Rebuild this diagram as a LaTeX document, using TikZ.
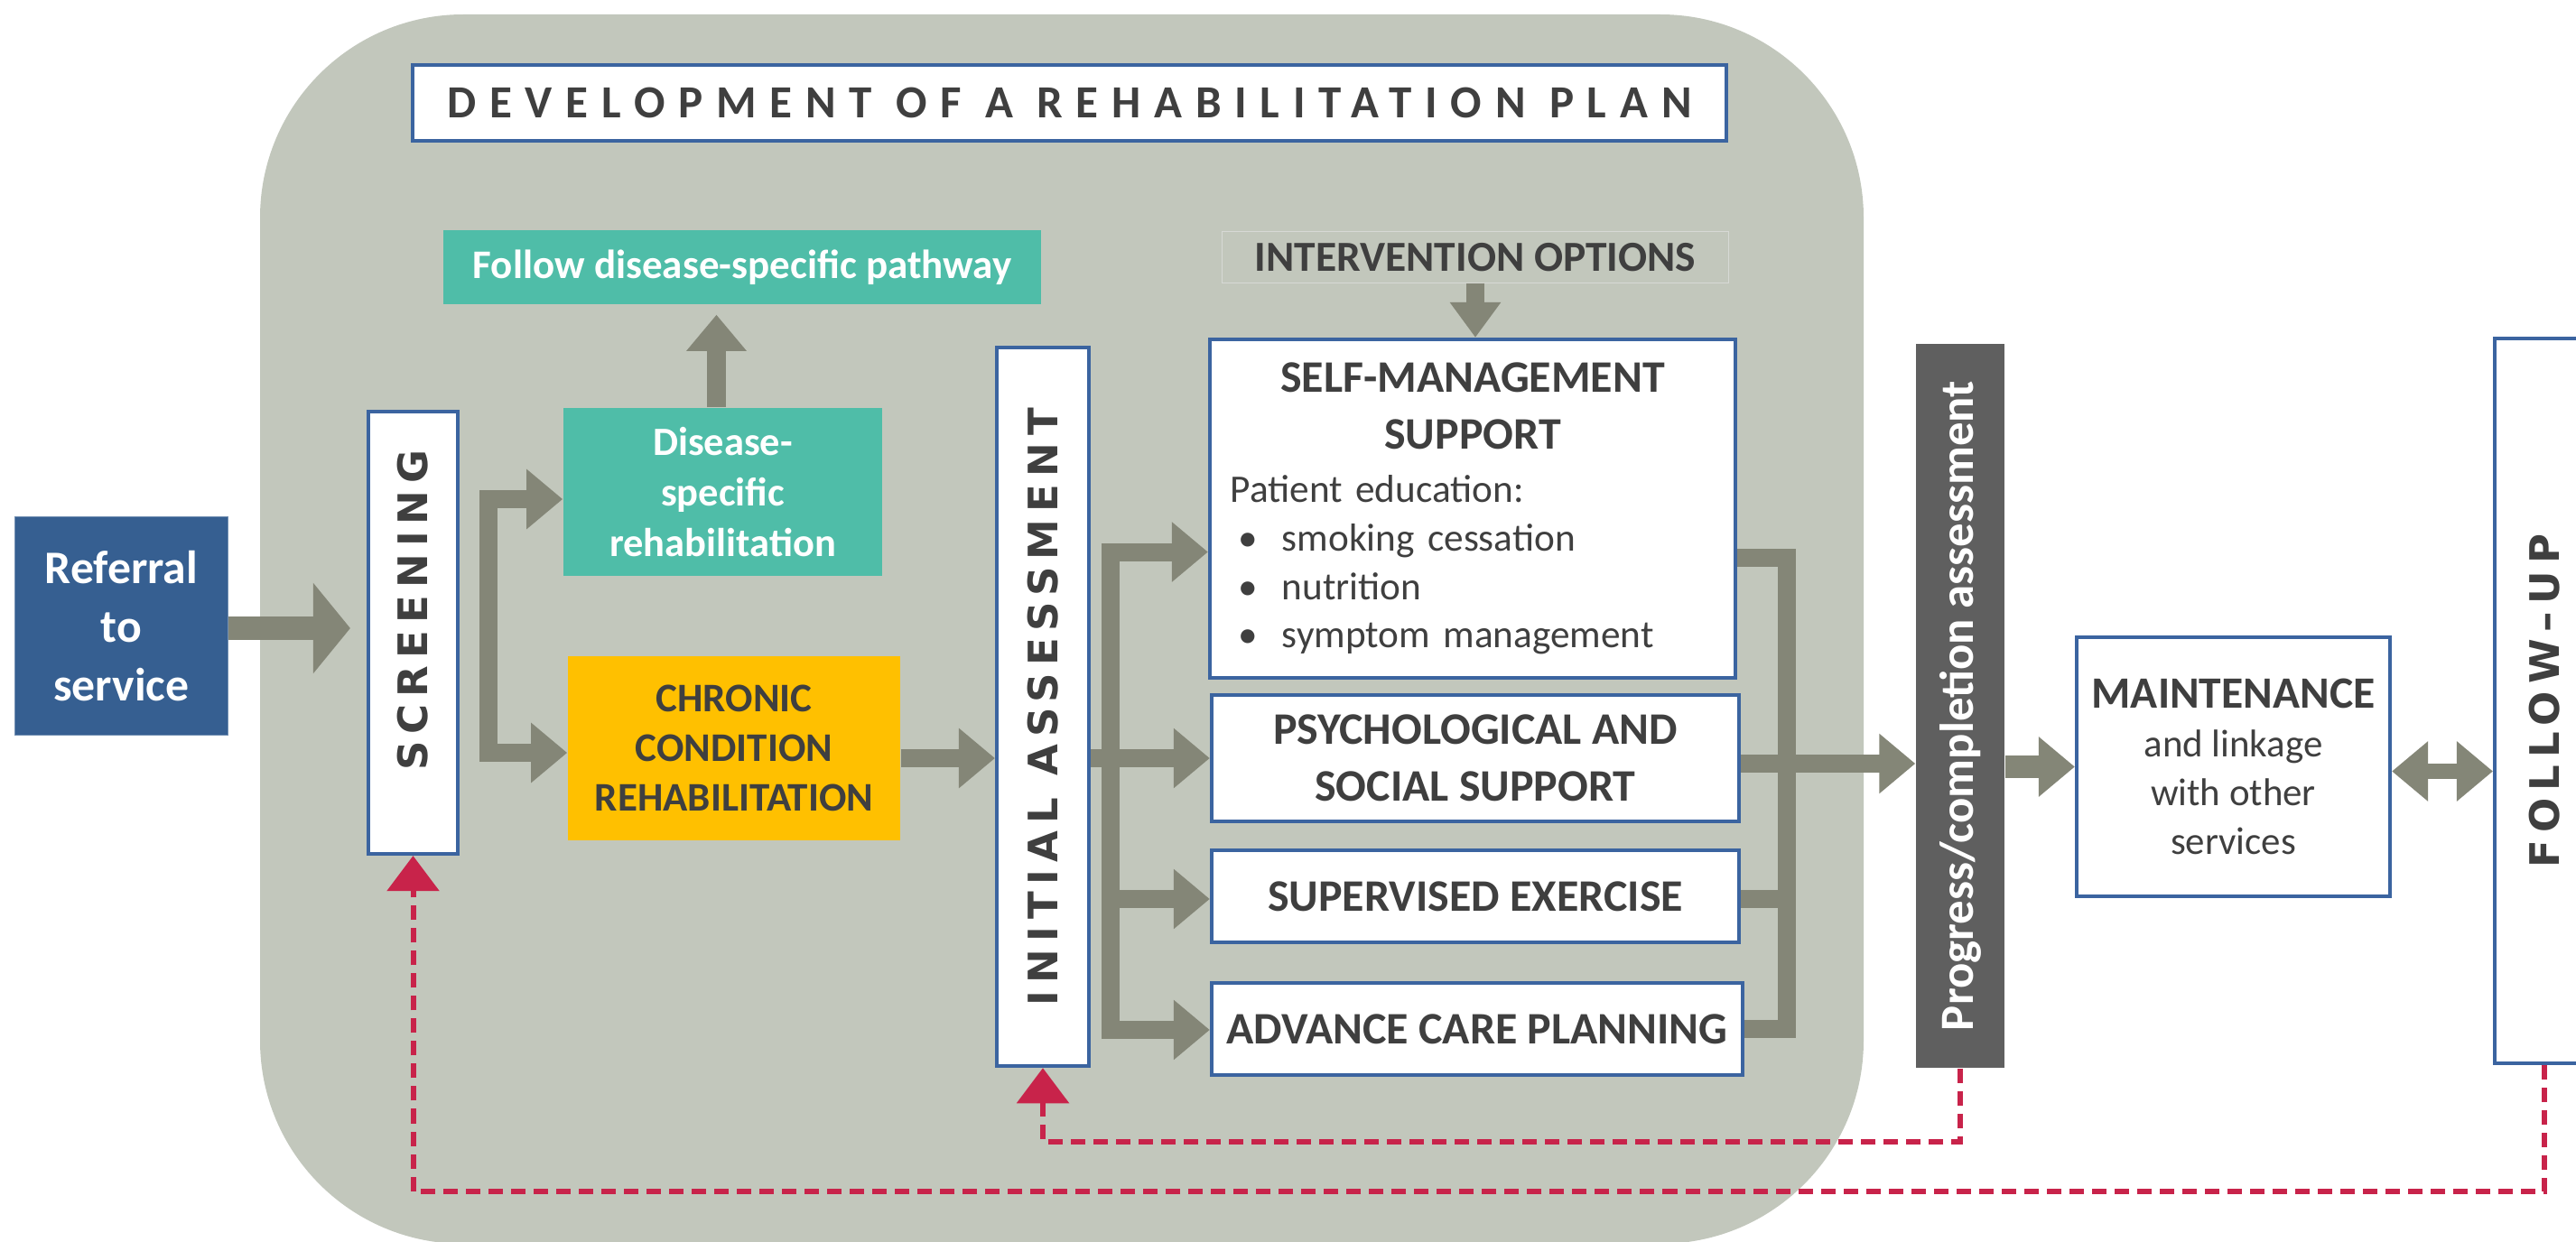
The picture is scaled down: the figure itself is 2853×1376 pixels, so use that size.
\documentclass[tikz,border=0pt]{standalone}
\usepackage{graphicx}
\usepackage{fontspec}
\setmainfont{Carlito}
\newfontfamily\spacedfont[LetterSpace=18]{DejaVu Sans}
\newfontfamily\titlefont[LetterSpace=29]{Carlito}
\usetikzlibrary{arrows.meta}

\definecolor{panel}{HTML}{C2C7BC}
\definecolor{arrowgray}{HTML}{848677}
\definecolor{boxblue}{HTML}{3B64A0}
\definecolor{refblue}{HTML}{365F91}
\definecolor{tealbox}{HTML}{4FBDA8}
\definecolor{amber}{HTML}{FFC000}
\definecolor{textgray}{HTML}{3F3F3F}
\definecolor{darkbar}{HTML}{5F5F5F}
\definecolor{backred}{HTML}{C8234A}

\tikzset{
  bigtip/.tip={Triangle[width=0.64cm,length=0.4cm]},
  backtip/.tip={Triangle[width=0.57cm,length=0.39cm]},
  fat/.style={draw=arrowgray, line width=0.2cm, line join=miter, -bigtip},
  back/.style={draw=backred, line width=0.06cm, dash pattern=on 0.16cm off 0.09cm, -backtip},
  plainbox/.style={draw=boxblue, line width=0.04cm, fill=white, text=textgray,
    font=\bfseries\fontsize{14.2}{18}\selectfont},
  spaced/.style={font=\spacedfont\bfseries\fontsize{12.8}{15}\selectfont},
}

\begin{document}
\begin{tikzpicture}[x=0.01cm, y=-0.01cm]
\useasboundingbox (0,0) rectangle (2853,1376);
\fill[panel, rounded corners=2.25cm] (288,16) rectangle (2064,1378);

\begin{scope}[every node/.style={rectangle, inner sep=0pt, align=center}]
    \node[fill=refblue, draw=refblue!70!white, line width=0.01cm, text=white,
          font=\bfseries\fontsize{14.7}{18.4}\selectfont,
          minimum width=2.35cm, minimum height=2.41cm] (referral) at (134.5,693.5) {Referral\\to\\service};
    \node[plainbox, spaced, minimum width=0.99cm, minimum height=4.9cm] (screening) at (457.5,701) {\rotatebox{90}{\hspace{0.5cm}SCREENING}};
    \node[plainbox, font=\titlefont\bfseries\fontsize{14.5}{17}\selectfont,
          minimum width=14.55cm, minimum height=0.84cm] (title) at (1184.5,114) {DEVELOPMENT OF A REHABILITATION PLAN};
    \node[fill=tealbox, text=white, font=\bfseries\fontsize{12.8}{15.5}\selectfont,
          minimum width=6.62cm, minimum height=0.82cm] (follow) at (822,296) {Follow disease-specific pathway};
    \node[fill=tealbox, text=white, font=\bfseries\fontsize{12.65}{15.9}\selectfont,
          minimum width=3.53cm, minimum height=1.86cm] (disease) at (800.5,545) {Disease-\\specific\\rehabilitation};
    \node[fill=amber, text=textgray, font=\bfseries\fontsize{12.8}{15.6}\selectfont,
          minimum width=3.68cm, minimum height=2.04cm] (chronic) at (813,829) {CHRONIC\\CONDITION\\REHABILITATION};
    \node[plainbox, spaced, minimum width=1.02cm, minimum height=7.96cm] (initial) at (1155,783) {\rotatebox{90}{INITIAL ASSESSMENT}};
    \node[draw=panel!80!black!40!white, line width=0.01cm, text=textgray,
          font=\bfseries\fontsize{13.5}{16}\selectfont,
          minimum width=5.6cm, minimum height=0.56cm] (options) at (1634,285) {INTERVENTION OPTIONS};
    \node[plainbox, minimum width=5.82cm, minimum height=3.75cm, text width=5.36cm, align=left,
          font=\fontsize{12.3}{15.3}\selectfont] (selfmgmt) at (1631,563.5) {%
        {\centering\bfseries\fontsize{14.2}{17.9}\selectfont SELF-MANAGEMENT\\SUPPORT\par}%
        \vspace{1.5pt}%
        Patient education:\\
        \makebox[0.57cm][l]{\hspace{0.09cm}\textbullet}smoking cessation\\
        \makebox[0.57cm][l]{\hspace{0.09cm}\textbullet}nutrition\\
        \makebox[0.57cm][l]{\hspace{0.09cm}\textbullet}symptom management};
    \node[plainbox, minimum width=5.84cm, minimum height=1.4cm] (psych) at (1634,840) {PSYCHOLOGICAL AND\\SOCIAL SUPPORT};
    \node[plainbox, minimum width=5.84cm, minimum height=1.02cm] (supervised) at (1634,993) {SUPERVISED EXERCISE};
    \node[plainbox, minimum width=5.88cm, minimum height=1.02cm] (advance) at (1636,1140) {ADVANCE CARE PLANNING};
    \node[fill=darkbar, text=white, font=\bfseries\fontsize{15}{18}\selectfont,
          minimum width=0.98cm, minimum height=8.02cm] (progress) at (2171,782) {\rotatebox{90}{Progress/completion assessment}};
    \node[plainbox, font=\fontsize{12.2}{15.3}\selectfont,
          minimum width=3.47cm, minimum height=2.87cm] (maintenance) at (2473.5,849.5)
          {{\bfseries\fontsize{14.1}{15.3}\selectfont MAINTENANCE}\\and linkage\\with other\\services};
    \node[plainbox, spaced, minimum width=1.1cm, minimum height=8.03cm] (followup) at (2818,776.5) {\rotatebox{90}{FOLLOW–UP}};
\end{scope}

\coordinate (outbar) at ([xshift=0.47cm]advance.east);

\begin{scope}
    \draw[draw=arrowgray, line width=0.26cm, -{Triangle[width=0.98cm,length=0.41cm]}, shorten >=0.18cm]
        ([yshift=-0.025cm]referral.east) -- ([yshift=-0.025cm]referral.east -| screening.west);
    \draw[fat, bigtip-bigtip] ([yshift=-0.08cm]disease.west) -| ([xshift=-0.87cm, yshift=-0.05cm]chronic.west) -- ([yshift=-0.05cm]chronic.west);
    \draw[fat, shorten >=0.11cm] ([xshift=-0.07cm]disease.north) -- ([xshift=-0.07cm]disease.north |- follow.south);
    \draw[fat] ([yshift=-0.11cm]chronic.east) -- ([yshift=-0.11cm]chronic.east -| initial.west);
    \draw[fat, bigtip-bigtip] ([yshift=-0.48cm]selfmgmt.west) -| ([xshift=-1.1cm, yshift=-0.01cm]advance.west) -- ([yshift=-0.01cm]advance.west);
    \draw[fat] ([xshift=-1.1cm, yshift=-0.03cm]supervised.west) -- ([yshift=-0.03cm]supervised.west);
    \draw[fat] (initial.east |- psych.west) -- (psych.west);
    \draw[fat, -{Triangle[width=0.54cm,length=0.39cm]}] (options.south) -- (options.south |- selfmgmt.north);
    \draw[fat, -] ([yshift=-0.54cm]selfmgmt.east) -| (outbar) -- (advance.east);
    \draw[fat, -] ([yshift=-0.03cm]supervised.east) -- ([yshift=-0.03cm]supervised.east -| outbar);
    \draw[fat] ([yshift=-0.06cm]psych.east) -- ([yshift=-0.06cm]psych.east -| progress.west);
    \draw[fat, line width=0.24cm] (progress.east |- maintenance.west) -- (maintenance.west);
    \draw[fat, bigtip-bigtip, line width=0.17cm] ([yshift=-0.05cm]maintenance.east) -- ([yshift=-0.05cm]maintenance.east -| followup.west);

    \draw[back] (progress.south) |- ([yshift=-0.82cm]initial.south) -- (initial.south);
    \draw[back] (followup.south) |- ([yshift=-3.72cm]screening.south) -- (screening.south);
\end{scope}
\end{tikzpicture}
\end{document}
